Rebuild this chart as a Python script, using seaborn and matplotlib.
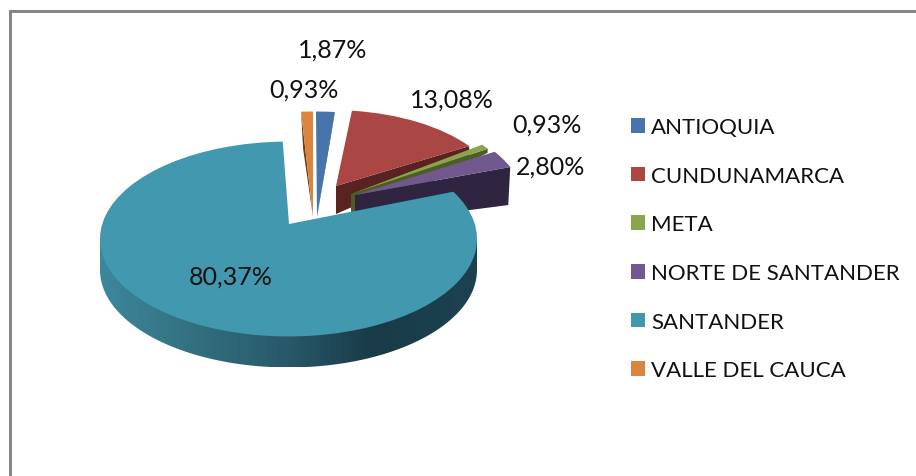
import numpy as np
import matplotlib
matplotlib.use("Agg")
import matplotlib.pyplot as plt
import seaborn as sns
from matplotlib.colors import LinearSegmentedColormap
from matplotlib.path import Path
from matplotlib.patches import PathPatch

categories = ["ANTIOQUIA", "CUNDUNAMARCA", "META", "NORTE DE SANTANDER", "SANTANDER", "VALLE DEL CAUCA"]
values = [1.87, 13.08, 0.93, 2.80, 80.37, 0.93]
colors = ["#4674AB", "#AA4643", "#89A54E", "#71588F", "#4198AF", "#DB843D"]
side_colors = ["#345A86", "#5A2321", "#4C5E26", "#2F2540", None, "#6B3F17"]

W, H, SQ = 916, 477, 0.517
sns.set_theme(style="white")
plt.rcParams["font.family"] = ["Lato", "DejaVu Sans"]

def py(y):
    return (H - y) / SQ

fig = plt.figure(figsize=(W / 100, H / 100), dpi=100)
ax = fig.add_axes([0, 0, 1, 1])
wedges, _ = ax.pie(values, colors=sns.color_palette(colors), startangle=90, counterclock=False)

# per-slice layout in pixels: ellipse centre, radius, apex
layout = [
    dict(c=(316, 218), r=204, apex=(317, 218)),
    dict(c=(332, 199), r=170, apex=(336, 187)),
    dict(c=(349, 196), r=165, apex=(351, 195)),
    dict(c=(335, 206), r=190, apex=(355, 196)),
    dict(c=(288.5, 240), r=188.5, apex=(289, 225)),
    dict(c=(313, 218), r=204, apex=(313, 218)),
]
# (edge used, tip offset px, apex depth px)
sides = [("right", (-7, 37), 0), ("right", (0, 10), 28), ("right", (0, 4), 30),
         ("right", (-2, 38), 30), None, ("left", (2, 37), 0)]
# perspective moves the far edges of the exploded slices
wedges[4].set_theta2(wedges[4].theta2 + 6.3)
wedges[4].set_theta1(wedges[4].theta1 - 1.6)
wedges[0].set_theta1(wedges[0].theta1 + 1.4)

draw_order = [5, 0, 1, 2, 3, 4]
for z, i in enumerate(draw_order):
    w, l = wedges[i], layout[i]
    w.set_center((l["c"][0], py(l["c"][1])))
    w.set_radius(l["r"])
    p = w.get_path()
    v = p.vertices.copy()
    centre = np.array(w.center)
    mask = np.all(np.isclose(v, centre), axis=1)
    apex = np.array([l["apex"][0], py(l["apex"][1])])
    v[mask] = apex
    w._path = Path(v, p.codes)
    w.set_zorder(10 + 2 * z + 1)
    w.set_edgecolor("none")
    s = sides[i]
    if s:
        arc_end = len(Path.arc(w.theta1, w.theta2).vertices) - 1
        tip = v[0] if s[0] == "right" else v[arc_end]
        off = np.array([s[1][0], -s[1][1] / SQ])
        poly = [apex, tip, tip + off, apex + np.array([0, -s[2] / SQ])]
        ax.fill(*zip(*poly), color=side_colors[i], lw=0, zorder=10 + 2 * z)

# Santander rim with gradient
cx, cy, r = layout[4]["c"][0], py(layout[4]["c"][1]), layout[4]["r"]
depth = 31 / SQ
t = np.radians(np.linspace(180, 360, 200))
rim = np.column_stack([cx + r * np.cos(t), cy + r * np.sin(t) - depth])
rim = np.vstack([rim, [[cx + r, cy], [cx - r, cy]]])
rim_patch = PathPatch(Path(np.vstack([rim, rim[:1]]), closed=True), transform=ax.transData, fc="none", ec="none")
ax.add_patch(rim_patch)
cmap = LinearSegmentedColormap.from_list(
    "rim", [(0, "#3D879D"), (0.25, "#33707F"), (0.5, "#28586A"), (0.72, "#193B47"), (1, "#1C4250")])
img = ax.imshow(np.linspace(0, 1, 256)[None, :], cmap=cmap, aspect="auto", zorder=19,
                extent=(cx - r, cx + r, cy - r - depth, cy))
img.set_clip_path(rim_patch)

# frame
ax.plot([9.5, 9.5, W], [0, py(11.5), py(11.5)], color="#868686", lw=2.16, solid_joinstyle="miter", zorder=1)

# data labels
label_pos = [(333, 50), (452, 100), (547, 125), (551, 167), (231, 277), (304, 90)]
for val, (x, y) in zip(values, label_pos):
    ax.text(x, py(y), f"{val:.2f}%".replace(".", ","), ha="center", va="center",
            fontsize=18, color="#111111", zorder=40)

ax.set_xlim(0, W)
ax.set_ylim(0, H / SQ)
ax.set_aspect("auto")
ax.set_axis_off()

leg = ax.legend(wedges, categories, loc="upper left", bbox_to_anchor=(620 / W, 1 - 107 / H),
                frameon=False, fontsize=16, handlelength=0.63, handleheight=0.63,
                handletextpad=0.27, labelspacing=1.29, borderpad=0, labelcolor="#111111")
fig.savefig("out.png", dpi=100, facecolor="white")
